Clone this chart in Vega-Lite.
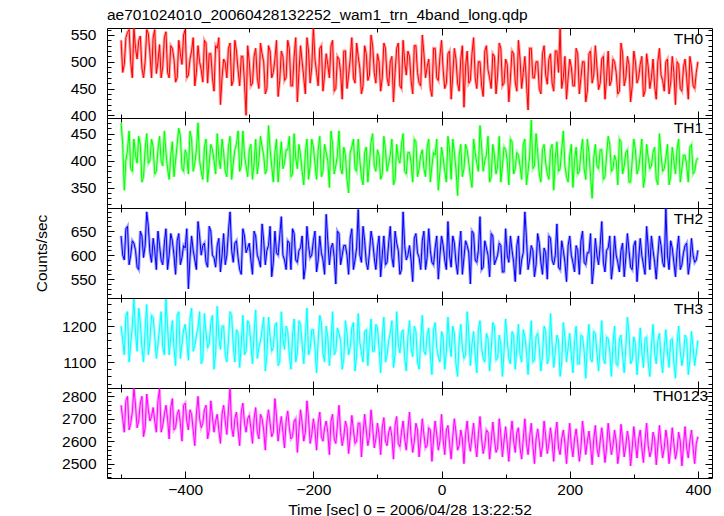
{
"$schema":"https://vega.github.io/schema/vega-lite/v6.json",
"autosize":"pad",
"padding":{"left":33,"top":7,"right":12,"bottom":4},
"background":"white",
"title":{"text":"ae701024010_20060428132252_wam1_trn_4band_long.qdp","anchor":"start","frame":"group","offset":-13,"baseline":"alphabetic","fontSize":15.5,"font":"Liberation Sans","fontWeight":"normal","color":"black"},
"spacing":0,
"bounds":"flush",
"data":{"values":[
{"t":-500,"a":540,"b":470,"c":640,"d":1200,"e":2760},
{"t":-495,"a":495,"b":345,"c":590,"d":1120,"e":2640},
{"t":-490,"a":555,"b":420,"c":660,"d":1240,"e":2800},
{"t":-485,"a":500,"b":385,"c":600,"d":1150,"e":2680},
{"t":-480,"a":563,"b":440,"c":625,"d":1275,"e":2835},
{"t":-475,"a":505,"b":395,"c":575,"d":1130,"e":2660},
{"t":-470,"a":548,"b":430,"c":650,"d":1210,"e":2770},
{"t":-465,"a":470,"b":370,"c":595,"d":1100,"e":2620},
{"t":-460,"a":560,"b":450,"c":690,"d":1260,"e":2810},
{"t":-455,"a":515,"b":400,"c":605,"d":1160,"e":2690},
{"t":-450,"a":545,"b":425,"c":635,"d":1225,"e":2750},
{"t":-445,"a":478,"b":380,"c":570,"d":1110,"e":2640},
{"t":-440,"a":532,"b":445,"c":620,"d":1195,"e":2835},
{"t":-435,"a":490,"b":390,"c":580,"d":1140,"e":2670},
{"t":-430,"a":556,"b":415,"c":655,"d":1275,"e":2760},
{"t":-425,"a":470,"b":365,"c":600,"d":1120,"e":2610},
{"t":-420,"a":525,"b":435,"c":630,"d":1215,"e":2790},
{"t":-415,"a":462,"b":400,"c":560,"d":1090,"e":2660},
{"t":-410,"a":540,"b":460,"c":645,"d":1240,"e":2740},
{"t":-405,"a":495,"b":385,"c":595,"d":1150,"e":2600},
{"t":-400,"a":560,"b":420,"c":615,"d":1205,"e":2770},
{"t":-395,"a":475,"b":375,"c":530,"d":1105,"e":2650},
{"t":-390,"a":520,"b":440,"c":640,"d":1250,"e":2720},
{"t":-385,"a":455,"b":395,"c":590,"d":1145,"e":2580},
{"t":-380,"a":530,"b":470,"c":670,"d":1195,"e":2800},
{"t":-375,"a":485,"b":380,"c":600,"d":1095,"e":2660},
{"t":-370,"a":540,"b":425,"c":625,"d":1235,"e":2740},
{"t":-365,"a":460,"b":360,"c":575,"d":1140,"e":2610},
{"t":-360,"a":515,"b":430,"c":650,"d":1210,"e":2780},
{"t":-355,"a":445,"b":400,"c":595,"d":1080,"e":2640},
{"t":-350,"a":525,"b":450,"c":620,"d":1255,"e":2720},
{"t":-345,"a":420,"b":385,"c":565,"d":1135,"e":2590},
{"t":-340,"a":505,"b":415,"c":645,"d":1200,"e":2760},
{"t":-335,"a":470,"b":370,"c":600,"d":1100,"e":2630},
{"t":-330,"a":535,"b":445,"c":690,"d":1240,"e":2835},
{"t":-325,"a":465,"b":395,"c":585,"d":1145,"e":2620},
{"t":-320,"a":520,"b":430,"c":630,"d":1190,"e":2730},
{"t":-315,"a":455,"b":380,"c":570,"d":1085,"e":2580},
{"t":-310,"a":510,"b":455,"c":655,"d":1230,"e":2770},
{"t":-305,"a":400,"b":390,"c":605,"d":1130,"e":2640},
{"t":-300,"a":500,"b":420,"c":625,"d":1205,"e":2715},
{"t":-295,"a":460,"b":365,"c":560,"d":1095,"e":2590},
{"t":-290,"a":525,"b":440,"c":640,"d":1245,"e":2750},
{"t":-285,"a":450,"b":400,"c":590,"d":1140,"e":2610},
{"t":-280,"a":515,"b":425,"c":665,"d":1190,"e":2700},
{"t":-275,"a":440,"b":375,"c":580,"d":1075,"e":2560},
{"t":-270,"a":530,"b":465,"c":620,"d":1225,"e":2740},
{"t":-265,"a":470,"b":390,"c":555,"d":1130,"e":2620},
{"t":-260,"a":505,"b":415,"c":650,"d":1200,"e":2790},
{"t":-255,"a":435,"b":360,"c":600,"d":1090,"e":2600},
{"t":-250,"a":520,"b":435,"c":680,"d":1240,"e":2710},
{"t":-245,"a":465,"b":395,"c":590,"d":1135,"e":2570},
{"t":-240,"a":540,"b":420,"c":630,"d":1185,"e":2735},
{"t":-235,"a":455,"b":370,"c":570,"d":1080,"e":2610},
{"t":-230,"a":510,"b":450,"c":645,"d":1220,"e":2690},
{"t":-225,"a":425,"b":385,"c":585,"d":1125,"e":2550},
{"t":-220,"a":530,"b":410,"c":615,"d":1205,"e":2740},
{"t":-215,"a":470,"b":355,"c":550,"d":1095,"e":2600},
{"t":-210,"a":545,"b":440,"c":660,"d":1250,"e":2780},
{"t":-205,"a":460,"b":390,"c":595,"d":1135,"e":2590},
{"t":-200,"a":565,"b":425,"c":630,"d":1190,"e":2700},
{"t":-195,"a":480,"b":365,"c":565,"d":1070,"e":2560},
{"t":-190,"a":525,"b":445,"c":640,"d":1230,"e":2730},
{"t":-185,"a":445,"b":380,"c":590,"d":1125,"e":2600},
{"t":-180,"a":515,"b":415,"c":685,"d":1200,"e":2690},
{"t":-175,"a":470,"b":350,"c":580,"d":1090,"e":2540},
{"t":-170,"a":540,"b":430,"c":625,"d":1240,"e":2720},
{"t":-165,"a":450,"b":390,"c":540,"d":1130,"e":2590},
{"t":-160,"a":505,"b":455,"c":645,"d":1180,"e":2760},
{"t":-155,"a":430,"b":375,"c":600,"d":1080,"e":2580},
{"t":-150,"a":520,"b":410,"c":620,"d":1215,"e":2690},
{"t":-145,"a":475,"b":340,"c":560,"d":1120,"e":2545},
{"t":-140,"a":545,"b":425,"c":655,"d":1195,"e":2715},
{"t":-135,"a":460,"b":385,"c":590,"d":1075,"e":2590},
{"t":-130,"a":510,"b":440,"c":695,"d":1235,"e":2680},
{"t":-125,"a":440,"b":370,"c":585,"d":1125,"e":2530},
{"t":-120,"a":530,"b":415,"c":630,"d":1185,"e":2720},
{"t":-115,"a":465,"b":360,"c":570,"d":1090,"e":2580},
{"t":-110,"a":550,"b":435,"c":650,"d":1220,"e":2740},
{"t":-105,"a":480,"b":390,"c":595,"d":1130,"e":2570},
{"t":-100,"a":515,"b":420,"c":615,"d":1195,"e":2680},
{"t":-95,"a":445,"b":365,"c":555,"d":1070,"e":2540},
{"t":-90,"a":535,"b":445,"c":640,"d":1225,"e":2705},
{"t":-85,"a":470,"b":380,"c":585,"d":1120,"e":2580},
{"t":-80,"a":500,"b":410,"c":660,"d":1180,"e":2665},
{"t":-75,"a":425,"b":355,"c":575,"d":1085,"e":2520},
{"t":-70,"a":525,"b":430,"c":625,"d":1240,"e":2710},
{"t":-65,"a":455,"b":395,"c":560,"d":1125,"e":2575},
{"t":-60,"a":540,"b":450,"c":690,"d":1190,"e":2690},
{"t":-55,"a":475,"b":375,"c":590,"d":1075,"e":2560},
{"t":-50,"a":510,"b":415,"c":620,"d":1215,"e":2730},
{"t":-45,"a":440,"b":360,"c":545,"d":1115,"e":2550},
{"t":-40,"a":530,"b":435,"c":645,"d":1185,"e":2680},
{"t":-35,"a":460,"b":385,"c":595,"d":1080,"e":2530},
{"t":-30,"a":550,"b":420,"c":630,"d":1230,"e":2700},
{"t":-25,"a":470,"b":370,"c":570,"d":1120,"e":2570},
{"t":-20,"a":505,"b":440,"c":655,"d":1195,"e":2660},
{"t":-15,"a":435,"b":390,"c":585,"d":1065,"e":2510},
{"t":-10,"a":525,"b":410,"c":615,"d":1210,"e":2690},
{"t":-5,"a":465,"b":345,"c":550,"d":1115,"e":2560},
{"t":0,"a":540,"b":425,"c":640,"d":1185,"e":2720},
{"t":5,"a":450,"b":380,"c":590,"d":1080,"e":2540},
{"t":10,"a":515,"b":445,"c":670,"d":1225,"e":2670},
{"t":15,"a":430,"b":365,"c":575,"d":1115,"e":2520},
{"t":20,"a":525,"b":415,"c":625,"d":1180,"e":2700},
{"t":25,"a":460,"b":335,"c":560,"d":1060,"e":2560},
{"t":30,"a":505,"b":430,"c":650,"d":1205,"e":2650},
{"t":35,"a":415,"b":385,"c":595,"d":1110,"e":2500},
{"t":40,"a":520,"b":420,"c":620,"d":1240,"e":2690},
{"t":45,"a":465,"b":370,"c":540,"d":1090,"e":2555},
{"t":50,"a":545,"b":440,"c":645,"d":1185,"e":2680},
{"t":55,"a":450,"b":395,"c":585,"d":1070,"e":2530},
{"t":60,"a":500,"b":465,"c":680,"d":1215,"e":2710},
{"t":65,"a":435,"b":380,"c":575,"d":1110,"e":2545},
{"t":70,"a":530,"b":410,"c":615,"d":1180,"e":2650},
{"t":75,"a":470,"b":360,"c":555,"d":1075,"e":2520},
{"t":80,"a":515,"b":430,"c":640,"d":1210,"e":2685},
{"t":85,"a":440,"b":375,"c":590,"d":1105,"e":2550},
{"t":90,"a":535,"b":445,"c":625,"d":1175,"e":2700},
{"t":95,"a":455,"b":390,"c":565,"d":1060,"e":2530},
{"t":100,"a":505,"b":420,"c":655,"d":1220,"e":2665},
{"t":105,"a":425,"b":355,"c":585,"d":1110,"e":2510},
{"t":110,"a":520,"b":435,"c":610,"d":1185,"e":2690},
{"t":115,"a":462,"b":385,"c":545,"d":1080,"e":2550},
{"t":120,"a":540,"b":410,"c":640,"d":1205,"e":2660},
{"t":125,"a":450,"b":365,"c":590,"d":1100,"e":2520},
{"t":130,"a":510,"b":440,"c":690,"d":1170,"e":2700},
{"t":135,"a":410,"b":380,"c":570,"d":1065,"e":2540},
{"t":140,"a":525,"b":475,"c":620,"d":1215,"e":2680},
{"t":145,"a":470,"b":390,"c":555,"d":1105,"e":2500},
{"t":150,"a":500,"b":415,"c":645,"d":1180,"e":2655},
{"t":155,"a":440,"b":360,"c":585,"d":1075,"e":2530},
{"t":160,"a":530,"b":430,"c":615,"d":1200,"e":2690},
{"t":165,"a":458,"b":375,"c":550,"d":1095,"e":2545},
{"t":170,"a":515,"b":420,"c":635,"d":1235,"e":2660},
{"t":175,"a":445,"b":345,"c":580,"d":1085,"e":2510},
{"t":180,"a":520,"b":435,"c":665,"d":1175,"e":2685},
{"t":185,"a":565,"b":385,"c":570,"d":1060,"e":2540},
{"t":190,"a":470,"b":455,"c":610,"d":1210,"e":2650},
{"t":195,"a":430,"b":370,"c":545,"d":1100,"e":2500},
{"t":200,"a":505,"b":410,"c":640,"d":1180,"e":2680},
{"t":205,"a":455,"b":350,"c":585,"d":1070,"e":2530},
{"t":210,"a":525,"b":425,"c":620,"d":1200,"e":2655},
{"t":215,"a":440,"b":380,"c":560,"d":1095,"e":2510},
{"t":220,"a":500,"b":440,"c":650,"d":1170,"e":2690},
{"t":225,"a":425,"b":365,"c":580,"d":1055,"e":2540},
{"t":230,"a":515,"b":415,"c":605,"d":1205,"e":2645},
{"t":235,"a":460,"b":330,"c":540,"d":1100,"e":2495},
{"t":240,"a":530,"b":430,"c":635,"d":1180,"e":2670},
{"t":245,"a":448,"b":385,"c":580,"d":1075,"e":2530},
{"t":250,"a":505,"b":420,"c":670,"d":1215,"e":2660},
{"t":255,"a":430,"b":370,"c":565,"d":1095,"e":2505},
{"t":260,"a":520,"b":445,"c":615,"d":1165,"e":2680},
{"t":265,"a":465,"b":380,"c":550,"d":1060,"e":2540},
{"t":270,"a":500,"b":410,"c":640,"d":1200,"e":2650},
{"t":275,"a":440,"b":355,"c":585,"d":1090,"e":2500},
{"t":280,"a":535,"b":435,"c":610,"d":1175,"e":2675},
{"t":285,"a":455,"b":390,"c":555,"d":1070,"e":2530},
{"t":290,"a":510,"b":420,"c":645,"d":1225,"e":2645},
{"t":295,"a":425,"b":360,"c":575,"d":1095,"e":2490},
{"t":300,"a":520,"b":440,"c":620,"d":1170,"e":2665},
{"t":305,"a":460,"b":375,"c":545,"d":1065,"e":2525},
{"t":310,"a":495,"b":410,"c":635,"d":1195,"e":2650},
{"t":315,"a":435,"b":350,"c":580,"d":1085,"e":2505},
{"t":320,"a":515,"b":430,"c":660,"d":1170,"e":2680},
{"t":325,"a":450,"b":385,"c":570,"d":1060,"e":2530},
{"t":330,"a":505,"b":415,"c":610,"d":1205,"e":2640},
{"t":335,"a":430,"b":365,"c":550,"d":1095,"e":2495},
{"t":340,"a":525,"b":450,"c":640,"d":1180,"e":2670},
{"t":345,"a":465,"b":380,"c":585,"d":1070,"e":2525},
{"t":350,"a":500,"b":405,"c":698,"d":1190,"e":2650},
{"t":355,"a":440,"b":355,"c":570,"d":1085,"e":2500},
{"t":360,"a":510,"b":425,"c":615,"d":1165,"e":2660},
{"t":365,"a":420,"b":375,"c":555,"d":1055,"e":2520},
{"t":370,"a":495,"b":440,"c":640,"d":1200,"e":2640},
{"t":375,"a":445,"b":385,"c":580,"d":1090,"e":2490},
{"t":380,"a":505,"b":410,"c":620,"d":1175,"e":2665},
{"t":385,"a":430,"b":360,"c":560,"d":1065,"e":2525},
{"t":390,"a":490,"b":430,"c":635,"d":1185,"e":2650},
{"t":395,"a":450,"b":380,"c":585,"d":1090,"e":2500},
{"t":400,"a":500,"b":405,"c":610,"d":1160,"e":2620},
{"t":-497.5,"a":480,"b":430,"c":600,"d":1160,"e":2700},
{"t":-492.5,"a":545,"b":400,"c":655,"d":1230,"e":2780},
{"t":-487.5,"a":560,"b":455,"c":580,"d":1100,"e":2650},
{"t":-482.5,"a":470,"b":380,"c":630,"d":1200,"e":2730},
{"t":-477.5,"a":525,"b":410,"c":610,"d":1180,"e":2760},
{"t":-472.5,"a":540,"b":445,"c":570,"d":1250,"e":2690},
{"t":-467.5,"a":488,"b":360,"c":640,"d":1140,"e":2800},
{"t":-462.5,"a":500,"b":420,"c":620,"d":1190,"e":2660},
{"t":-457.5,"a":552,"b":395,"c":660,"d":1120,"e":2740},
{"t":-452.5,"a":470,"b":440,"c":585,"d":1230,"e":2710},
{"t":-447.5,"a":560,"b":375,"c":610,"d":1170,"e":2690},
{"t":-442.5,"a":500,"b":420,"c":650,"d":1150,"e":2780},
{"t":-437.5,"a":470,"b":400,"c":590,"d":1240,"e":2640},
{"t":-432.5,"a":545,"b":455,"c":625,"d":1120,"e":2720},
{"t":-427.5,"a":480,"b":385,"c":570,"d":1200,"e":2700},
{"t":-422.5,"a":530,"b":410,"c":645,"d":1170,"e":2750},
{"t":-417.5,"a":505,"b":370,"c":600,"d":1140,"e":2650},
{"t":-412.5,"a":470,"b":430,"c":630,"d":1230,"e":2720},
{"t":-407.5,"a":515,"b":445,"c":580,"d":1110,"e":2680},
{"t":-402.5,"a":550,"b":380,"c":620,"d":1190,"e":2760},
{"t":-397.5,"a":470,"b":410,"c":655,"d":1160,"e":2690},
{"t":-392.5,"a":505,"b":455,"c":595,"d":1220,"e":2740},
{"t":-387.5,"a":545,"b":380,"c":610,"d":1130,"e":2650},
{"t":-382.5,"a":480,"b":420,"c":570,"d":1175,"e":2720},
{"t":-377.5,"a":500,"b":400,"c":640,"d":1240,"e":2700},
{"t":-372.5,"a":462,"b":365,"c":620,"d":1110,"e":2680},
{"t":-367.5,"a":535,"b":440,"c":585,"d":1180,"e":2760},
{"t":-362.5,"a":515,"b":395,"c":660,"d":1150,"e":2650},
{"t":-357.5,"a":470,"b":420,"c":600,"d":1230,"e":2710},
{"t":-352.5,"a":530,"b":375,"c":575,"d":1125,"e":2690},
{"t":-347.5,"a":545,"b":405,"c":635,"d":1170,"e":2650},
{"t":-342.5,"a":470,"b":440,"c":600,"d":1200,"e":2720},
{"t":-337.5,"a":498,"b":380,"c":580,"d":1120,"e":2690},
{"t":-332.5,"a":525,"b":425,"c":650,"d":1160,"e":2740},
{"t":-327.5,"a":455,"b":365,"c":610,"d":1230,"e":2660},
{"t":-322.5,"a":540,"b":420,"c":625,"d":1100,"e":2700},
{"t":-317.5,"a":485,"b":455,"c":595,"d":1180,"e":2650},
{"t":-312.5,"a":510,"b":390,"c":560,"d":1150,"e":2730},
{"t":-307.5,"a":460,"b":410,"c":640,"d":1120,"e":2680},
{"t":-302.5,"a":530,"b":370,"c":615,"d":1215,"e":2700},
{"t":-297.5,"a":455,"b":430,"c":590,"d":1150,"e":2660},
{"t":-292.5,"a":510,"b":395,"c":650,"d":1180,"e":2700},
{"t":-287.5,"a":470,"b":375,"c":600,"d":1110,"e":2640},
{"t":-282.5,"a":535,"b":445,"c":575,"d":1160,"e":2720},
{"t":-277.5,"a":500,"b":410,"c":630,"d":1225,"e":2650},
{"t":-272.5,"a":450,"b":385,"c":610,"d":1120,"e":2690},
{"t":-267.5,"a":520,"b":420,"c":660,"d":1170,"e":2680},
{"t":-262.5,"a":480,"b":360,"c":585,"d":1140,"e":2640},
{"t":-257.5,"a":540,"b":440,"c":605,"d":1210,"e":2710},
{"t":-252.5,"a":465,"b":400,"c":640,"d":1100,"e":2660},
{"t":-247.5,"a":510,"b":385,"c":600,"d":1165,"e":2640},
{"t":-242.5,"a":470,"b":420,"c":570,"d":1200,"e":2690},
{"t":-237.5,"a":525,"b":445,"c":625,"d":1120,"e":2660},
{"t":-232.5,"a":455,"b":375,"c":655,"d":1175,"e":2620},
{"t":-227.5,"a":545,"b":405,"c":590,"d":1100,"e":2700},
{"t":-222.5,"a":480,"b":430,"c":610,"d":1215,"e":2650},
{"t":-217.5,"a":500,"b":380,"c":640,"d":1150,"e":2680},
{"t":-212.5,"a":440,"b":415,"c":575,"d":1170,"e":2640},
{"t":-207.5,"a":520,"b":365,"c":620,"d":1120,"e":2700},
{"t":-202.5,"a":490,"b":440,"c":600,"d":1190,"e":2630},
{"t":-197.5,"a":505,"b":395,"c":650,"d":1140,"e":2650},
{"t":-192.5,"a":455,"b":420,"c":590,"d":1160,"e":2680},
{"t":-187.5,"a":530,"b":370,"c":605,"d":1210,"e":2620},
{"t":-182.5,"a":475,"b":430,"c":560,"d":1100,"e":2660},
{"t":-177.5,"a":495,"b":400,"c":630,"d":1170,"e":2640},
{"t":-172.5,"a":530,"b":455,"c":615,"d":1150,"e":2690},
{"t":-167.5,"a":445,"b":375,"c":595,"d":1120,"e":2610},
{"t":-162.5,"a":510,"b":410,"c":650,"d":1195,"e":2670},
{"t":-157.5,"a":480,"b":385,"c":580,"d":1160,"e":2640},
{"t":-152.5,"a":520,"b":425,"c":620,"d":1110,"e":2620},
{"t":-147.5,"a":450,"b":365,"c":600,"d":1180,"e":2660},
{"t":-142.5,"a":505,"b":415,"c":635,"d":1140,"e":2620},
{"t":-137.5,"a":470,"b":440,"c":570,"d":1210,"e":2650},
{"t":-132.5,"a":535,"b":380,"c":615,"d":1120,"e":2600},
{"t":-127.5,"a":488,"b":400,"c":600,"d":1155,"e":2680},
{"t":-122.5,"a":455,"b":355,"c":660,"d":1100,"e":2630},
{"t":-117.5,"a":515,"b":425,"c":585,"d":1190,"e":2650},
{"t":-112.5,"a":475,"b":395,"c":605,"d":1160,"e":2620},
{"t":-107.5,"a":530,"b":450,"c":630,"d":1130,"e":2660},
{"t":-102.5,"a":460,"b":380,"c":570,"d":1205,"e":2610},
{"t":-97.5,"a":500,"b":410,"c":640,"d":1140,"e":2630},
{"t":-92.5,"a":470,"b":375,"c":600,"d":1170,"e":2660},
{"t":-87.5,"a":525,"b":420,"c":580,"d":1100,"e":2600},
{"t":-82.5,"a":455,"b":395,"c":625,"d":1160,"e":2640},
{"t":-77.5,"a":510,"b":440,"c":595,"d":1215,"e":2620},
{"t":-72.5,"a":480,"b":365,"c":650,"d":1120,"e":2670},
{"t":-67.5,"a":535,"b":405,"c":610,"d":1150,"e":2590},
{"t":-62.5,"a":450,"b":430,"c":570,"d":1180,"e":2640},
{"t":-57.5,"a":500,"b":380,"c":620,"d":1110,"e":2610},
{"t":-52.5,"a":520,"b":415,"c":600,"d":1170,"e":2650},
{"t":-47.5,"a":465,"b":395,"c":590,"d":1140,"e":2620},
{"t":-42.5,"a":530,"b":440,"c":635,"d":1200,"e":2600},
{"t":-37.5,"a":480,"b":370,"c":605,"d":1100,"e":2650},
{"t":-32.5,"a":455,"b":410,"c":570,"d":1160,"e":2610},
{"t":-27.5,"a":515,"b":385,"c":650,"d":1130,"e":2630},
{"t":-22.5,"a":490,"b":425,"c":595,"d":1175,"e":2580},
{"t":-17.5,"a":450,"b":360,"c":610,"d":1120,"e":2650},
{"t":-12.5,"a":525,"b":415,"c":580,"d":1190,"e":2610},
{"t":-7.5,"a":470,"b":440,"c":640,"d":1140,"e":2630},
{"t":-2.5,"a":510,"b":380,"c":600,"d":1100,"e":2600},
{"t":2.5,"a":485,"b":405,"c":620,"d":1170,"e":2610},
{"t":7.5,"a":460,"b":360,"c":570,"d":1130,"e":2650},
{"t":12.5,"a":520,"b":420,"c":600,"d":1150,"e":2590},
{"t":17.5,"a":475,"b":440,"c":640,"d":1200,"e":2620},
{"t":22.5,"a":505,"b":385,"c":585,"d":1095,"e":2640},
{"t":27.5,"a":445,"b":410,"c":615,"d":1160,"e":2580},
{"t":32.5,"a":530,"b":370,"c":560,"d":1140,"e":2610},
{"t":37.5,"a":490,"b":430,"c":630,"d":1120,"e":2630},
{"t":42.5,"a":460,"b":395,"c":605,"d":1180,"e":2600},
{"t":47.5,"a":515,"b":350,"c":650,"d":1150,"e":2620},
{"t":52.5,"a":470,"b":415,"c":590,"d":1120,"e":2590},
{"t":57.5,"a":500,"b":380,"c":610,"d":1190,"e":2630},
{"t":62.5,"a":455,"b":425,"c":570,"d":1140,"e":2610},
{"t":67.5,"a":520,"b":400,"c":630,"d":1100,"e":2580},
{"t":72.5,"a":485,"b":445,"c":600,"d":1165,"e":2640},
{"t":77.5,"a":450,"b":370,"c":645,"d":1135,"e":2600},
{"t":82.5,"a":510,"b":410,"c":580,"d":1200,"e":2610},
{"t":87.5,"a":475,"b":390,"c":600,"d":1110,"e":2570},
{"t":92.5,"a":525,"b":360,"c":620,"d":1150,"e":2630},
{"t":97.5,"a":460,"b":425,"c":565,"d":1130,"e":2600},
{"t":102.5,"a":495,"b":400,"c":600,"d":1160,"e":2590},
{"t":107.5,"a":470,"b":440,"c":640,"d":1095,"e":2620},
{"t":112.5,"a":515,"b":375,"c":585,"d":1175,"e":2600},
{"t":117.5,"a":445,"b":415,"c":620,"d":1140,"e":2640},
{"t":122.5,"a":505,"b":390,"c":560,"d":1120,"e":2570},
{"t":127.5,"a":480,"b":430,"c":605,"d":1190,"e":2610},
{"t":132.5,"a":460,"b":355,"c":635,"d":1130,"e":2590},
{"t":137.5,"a":525,"b":410,"c":590,"d":1150,"e":2620},
{"t":142.5,"a":470,"b":385,"c":610,"d":1100,"e":2580},
{"t":147.5,"a":500,"b":450,"c":580,"d":1170,"e":2610},
{"t":152.5,"a":450,"b":375,"c":625,"d":1140,"e":2600},
{"t":157.5,"a":515,"b":420,"c":560,"d":1120,"e":2580},
{"t":162.5,"a":475,"b":395,"c":605,"d":1185,"e":2620},
{"t":167.5,"a":505,"b":365,"c":640,"d":1110,"e":2590},
{"t":172.5,"a":460,"b":430,"c":590,"d":1150,"e":2600},
{"t":177.5,"a":520,"b":405,"c":600,"d":1130,"e":2630},
{"t":182.5,"a":480,"b":380,"c":575,"d":1160,"e":2570},
{"t":187.5,"a":450,"b":420,"c":630,"d":1100,"e":2610},
{"t":192.5,"a":510,"b":390,"c":585,"d":1170,"e":2590},
{"t":197.5,"a":470,"b":360,"c":620,"d":1140,"e":2600},
{"t":202.5,"a":490,"b":430,"c":600,"d":1120,"e":2580},
{"t":207.5,"a":455,"b":400,"c":565,"d":1160,"e":2610},
{"t":212.5,"a":515,"b":375,"c":610,"d":1095,"e":2590},
{"t":217.5,"a":470,"b":415,"c":630,"d":1175,"e":2570},
{"t":222.5,"a":500,"b":385,"c":585,"d":1130,"e":2620},
{"t":227.5,"a":445,"b":440,"c":605,"d":1150,"e":2600},
{"t":232.5,"a":520,"b":370,"c":645,"d":1110,"e":2580},
{"t":237.5,"a":475,"b":405,"c":575,"d":1185,"e":2610},
{"t":242.5,"a":490,"b":390,"c":600,"d":1125,"e":2570},
{"t":247.5,"a":460,"b":420,"c":620,"d":1145,"e":2600},
{"t":252.5,"a":510,"b":365,"c":585,"d":1110,"e":2590},
{"t":257.5,"a":470,"b":410,"c":610,"d":1170,"e":2570},
{"t":262.5,"a":455,"b":430,"c":640,"d":1130,"e":2610},
{"t":267.5,"a":505,"b":385,"c":580,"d":1150,"e":2580},
{"t":272.5,"a":480,"b":400,"c":600,"d":1095,"e":2600},
{"t":277.5,"a":445,"b":440,"c":565,"d":1165,"e":2560},
{"t":282.5,"a":515,"b":375,"c":625,"d":1120,"e":2610},
{"t":287.5,"a":470,"b":415,"c":595,"d":1140,"e":2580},
{"t":292.5,"a":495,"b":360,"c":610,"d":1180,"e":2600},
{"t":297.5,"a":455,"b":400,"c":570,"d":1105,"e":2570},
{"t":302.5,"a":500,"b":420,"c":630,"d":1150,"e":2590},
{"t":307.5,"a":470,"b":385,"c":590,"d":1120,"e":2610},
{"t":312.5,"a":510,"b":440,"c":600,"d":1130,"e":2570},
{"t":317.5,"a":445,"b":370,"c":560,"d":1165,"e":2600},
{"t":322.5,"a":490,"b":405,"c":615,"d":1100,"e":2580},
{"t":327.5,"a":470,"b":390,"c":640,"d":1145,"e":2560},
{"t":332.5,"a":455,"b":425,"c":585,"d":1125,"e":2610},
{"t":337.5,"a":500,"b":355,"c":600,"d":1160,"e":2580},
{"t":342.5,"a":475,"b":410,"c":620,"d":1110,"e":2590},
{"t":347.5,"a":445,"b":385,"c":575,"d":1140,"e":2570},
{"t":352.5,"a":505,"b":430,"c":600,"d":1125,"e":2600},
{"t":357.5,"a":460,"b":370,"c":630,"d":1160,"e":2570},
{"t":362.5,"a":480,"b":400,"c":585,"d":1100,"e":2590},
{"t":367.5,"a":500,"b":420,"c":610,"d":1150,"e":2560},
{"t":372.5,"a":450,"b":360,"c":570,"d":1130,"e":2600},
{"t":377.5,"a":490,"b":410,"c":605,"d":1120,"e":2580},
{"t":382.5,"a":470,"b":390,"c":625,"d":1165,"e":2570},
{"t":387.5,"a":510,"b":425,"c":585,"d":1105,"e":2600},
{"t":392.5,"a":455,"b":375,"c":600,"d":1140,"e":2570},
{"t":397.5,"a":480,"b":400,"c":590,"d":1125,"e":2590}
]},
"vconcat":[
{"width":605,"height":90,"layer":[
 {"mark":{"type":"line","color":"#ff0000","strokeWidth":3,"opacity":0.35,"clip":true},
  "encoding":{"x":{"field":"t","type":"quantitative","axis":null},"y":{"field":"a","type":"quantitative","axis":null}}},
 {"mark":{"type":"line","color":"#ff0000","strokeWidth":1,"clip":true},
  "encoding":{
   "x":{"field":"t","type":"quantitative","scale":{"domain":[-522,422],"nice":false,"zero":false},
        "axis":{"orient":"bottom","values":[-500,-400,-300,-200,-100,0,100,200,300,400],"labels":false,"title":null,"tickSize":{"condition":{"test":"datum.value % 200 === 0","value":-7},"value":-4}}},
   "y":{"field":"a","type":"quantitative","scale":{"domain":[395,563],"nice":false,"zero":false},
        "axis":{"orient":"left","format":"d","values":[400,410,420,430,440,450,460,470,480,490,500,510,520,530,540,550,560],"labelExpr":"datum.value % 50 === 0 ? datum.label : ''","labelOverlap":false,"title":null,"labelPadding":18,"tickSize":{"condition":{"test":"datum.value % 50 === 0","value":-7},"value":-4}}}}},
 {"data":{"values":[{"name":"TH0"}]},
  "mark":{"type":"text","align":"right","baseline":"middle","fontSize":15.5,"font":"Liberation Sans","color":"black"},
  "encoding":{
   "x":{"datum":408,"type":"quantitative","axis":{"orient":"top","values":[-500,-400,-300,-200,-100,0,100,200,300,400],"labels":false,"title":null,"tickSize":{"condition":{"test":"datum.value % 200 === 0","value":-7},"value":-4}}},
   "y":{"datum":543,"type":"quantitative","axis":{"orient":"right","values":[400,410,420,430,440,450,460,470,480,490,500,510,520,530,540,550,560],"labels":false,"title":null,"tickSize":{"condition":{"test":"datum.value % 50 === 0","value":-7},"value":-4}}},
   "text":{"field":"name"}}}
]},
{"width":605,"height":90,"layer":[
 {"mark":{"type":"line","color":"#00ff00","strokeWidth":3,"opacity":0.35,"clip":true},
  "encoding":{"x":{"field":"t","type":"quantitative","axis":null},"y":{"field":"b","type":"quantitative","axis":null}}},
 {"mark":{"type":"line","color":"#00ff00","strokeWidth":1,"clip":true},
  "encoding":{
   "x":{"field":"t","type":"quantitative","scale":{"domain":[-522,422],"nice":false,"zero":false},
        "axis":{"orient":"bottom","values":[-500,-400,-300,-200,-100,0,100,200,300,400],"labels":false,"title":null,"tickSize":{"condition":{"test":"datum.value % 200 === 0","value":-7},"value":-4}}},
   "y":{"field":"b","type":"quantitative","scale":{"domain":[312,479],"nice":false,"zero":false},
        "axis":{"orient":"left","format":"d","values":[320,330,340,350,360,370,380,390,400,410,420,430,440,450,460,470],"labelExpr":"datum.value % 50 === 0 ? datum.label : ''","labelOverlap":false,"title":null,"labelPadding":18,"tickSize":{"condition":{"test":"datum.value % 50 === 0","value":-7},"value":-4}}}}},
 {"data":{"values":[{"name":"TH1"}]},
  "mark":{"type":"text","align":"right","baseline":"middle","fontSize":15.5,"font":"Liberation Sans","color":"black"},
  "encoding":{
   "x":{"datum":408,"type":"quantitative","axis":{"orient":"top","values":[-500,-400,-300,-200,-100,0,100,200,300,400],"labels":false,"title":null,"tickSize":{"condition":{"test":"datum.value % 200 === 0","value":-7},"value":-4}}},
   "y":{"datum":460,"type":"quantitative","axis":{"orient":"right","values":[320,330,340,350,360,370,380,390,400,410,420,430,440,450,460,470],"labels":false,"title":null,"tickSize":{"condition":{"test":"datum.value % 50 === 0","value":-7},"value":-4}}},
   "text":{"field":"name"}}}
]},
{"width":605,"height":90,"layer":[
 {"mark":{"type":"line","color":"#0000ff","strokeWidth":3,"opacity":0.35,"clip":true},
  "encoding":{"x":{"field":"t","type":"quantitative","axis":null},"y":{"field":"c","type":"quantitative","axis":null}}},
 {"mark":{"type":"line","color":"#0000ff","strokeWidth":1,"clip":true},
  "encoding":{
   "x":{"field":"t","type":"quantitative","scale":{"domain":[-522,422],"nice":false,"zero":false},
        "axis":{"orient":"bottom","values":[-500,-400,-300,-200,-100,0,100,200,300,400],"labels":false,"title":null,"tickSize":{"condition":{"test":"datum.value % 200 === 0","value":-7},"value":-4}}},
   "y":{"field":"c","type":"quantitative","scale":{"domain":[511,698],"nice":false,"zero":false},
        "axis":{"orient":"left","format":"d","values":[520,530,540,550,560,570,580,590,600,610,620,630,640,650,660,670,680,690],"labelExpr":"datum.value % 50 === 0 ? datum.label : ''","labelOverlap":false,"title":"Counts/sec","titlePadding":21,"titleFontWeight":"normal","labelPadding":18,"tickSize":{"condition":{"test":"datum.value % 50 === 0","value":-7},"value":-4}}}}},
 {"data":{"values":[{"name":"TH2"}]},
  "mark":{"type":"text","align":"right","baseline":"middle","fontSize":15.5,"font":"Liberation Sans","color":"black"},
  "encoding":{
   "x":{"datum":408,"type":"quantitative","axis":{"orient":"top","values":[-500,-400,-300,-200,-100,0,100,200,300,400],"labels":false,"title":null,"tickSize":{"condition":{"test":"datum.value % 200 === 0","value":-7},"value":-4}}},
   "y":{"datum":676,"type":"quantitative","axis":{"orient":"right","values":[520,530,540,550,560,570,580,590,600,610,620,630,640,650,660,670,680,690],"labels":false,"title":null,"tickSize":{"condition":{"test":"datum.value % 50 === 0","value":-7},"value":-4}}},
   "text":{"field":"name"}}}
]},
{"width":605,"height":90,"layer":[
 {"mark":{"type":"line","color":"#00ffff","strokeWidth":3,"opacity":0.35,"clip":true},
  "encoding":{"x":{"field":"t","type":"quantitative","axis":null},"y":{"field":"d","type":"quantitative","axis":null}}},
 {"mark":{"type":"line","color":"#00ffff","strokeWidth":1,"clip":true},
  "encoding":{
   "x":{"field":"t","type":"quantitative","scale":{"domain":[-522,422],"nice":false,"zero":false},
        "axis":{"orient":"bottom","values":[-500,-400,-300,-200,-100,0,100,200,300,400],"labels":false,"title":null,"tickSize":{"condition":{"test":"datum.value % 200 === 0","value":-7},"value":-4}}},
   "y":{"field":"d","type":"quantitative","scale":{"domain":[1028,1278],"nice":false,"zero":false},
        "axis":{"orient":"left","format":"d","values":[1040,1060,1080,1100,1120,1140,1160,1180,1200,1220,1240,1260],"labelExpr":"datum.value % 100 === 0 ? datum.label : ''","labelOverlap":false,"title":null,"labelPadding":18,"tickSize":{"condition":{"test":"datum.value % 100 === 0","value":-7},"value":-4}}}}},
 {"data":{"values":[{"name":"TH3"}]},
  "mark":{"type":"text","align":"right","baseline":"middle","fontSize":15.5,"font":"Liberation Sans","color":"black"},
  "encoding":{
   "x":{"datum":408,"type":"quantitative","axis":{"orient":"top","values":[-500,-400,-300,-200,-100,0,100,200,300,400],"labels":false,"title":null,"tickSize":{"condition":{"test":"datum.value % 200 === 0","value":-7},"value":-4}}},
   "y":{"datum":1248,"type":"quantitative","axis":{"orient":"right","values":[1040,1060,1080,1100,1120,1140,1160,1180,1200,1220,1240,1260],"labels":false,"title":null,"tickSize":{"condition":{"test":"datum.value % 100 === 0","value":-7},"value":-4}}},
   "text":{"field":"name"}}}
]},
{"width":605,"height":90,"layer":[
 {"mark":{"type":"line","color":"#ff00ff","strokeWidth":3,"opacity":0.35,"clip":true},
  "encoding":{"x":{"field":"t","type":"quantitative","axis":null},"y":{"field":"e","type":"quantitative","axis":null}}},
 {"mark":{"type":"line","color":"#ff00ff","strokeWidth":1,"clip":true},
  "encoding":{
   "x":{"field":"t","type":"quantitative","scale":{"domain":[-522,422],"nice":false,"zero":false},
        "axis":{"orient":"bottom","values":[-500,-400,-300,-200,-100,0,100,200,300,400],"labelExpr":"datum.value % 200 === 0 ? datum.label : ''","labelOverlap":false,"labelFlush":false,"labelPadding":11.5,"title":"Time [sec] 0 = 2006/04/28 13:22:52","titlePadding":1,"tickSize":{"condition":{"test":"datum.value % 200 === 0","value":-7},"value":-4}}},
   "y":{"field":"e","type":"quantitative","scale":{"domain":[2436,2837],"nice":false,"zero":false},
        "axis":{"orient":"left","format":"d","values":[2440,2460,2480,2500,2520,2540,2560,2580,2600,2620,2640,2660,2680,2700,2720,2740,2760,2780,2800,2820],"labelExpr":"datum.value % 100 === 0 ? datum.label : ''","labelOverlap":false,"title":null,"labelPadding":18,"tickSize":{"condition":{"test":"datum.value % 100 === 0","value":-7},"value":-4}}}}},
 {"data":{"values":[{"name":"TH0123"}]},
  "mark":{"type":"text","align":"right","baseline":"middle","fontSize":15.5,"font":"Liberation Sans","color":"black"},
  "encoding":{
   "x":{"datum":416,"type":"quantitative","axis":{"orient":"top","values":[-500,-400,-300,-200,-100,0,100,200,300,400],"labels":false,"title":null,"tickSize":{"condition":{"test":"datum.value % 200 === 0","value":-7},"value":-4}}},
   "y":{"datum":2800,"type":"quantitative","axis":{"orient":"right","values":[2440,2460,2480,2500,2520,2540,2560,2580,2600,2620,2640,2660,2680,2700,2720,2740,2760,2780,2800,2820],"labels":false,"title":null,"tickSize":{"condition":{"test":"datum.value % 100 === 0","value":-7},"value":-4}}},
   "text":{"field":"name"}}}
]}
],
"config":{
 "font":"Liberation Sans",
 "view":{"stroke":"black","strokeWidth":1},
 "axis":{"domain":false,"grid":false,"minExtent":0,"tickColor":"black","tickWidth":1,"labelFont":"Liberation Sans","labelFontSize":15.5,"labelColor":"black","titleFont":"Liberation Sans","titleFontSize":15.5,"titleFontWeight":"normal","titleColor":"black"}
}
}
